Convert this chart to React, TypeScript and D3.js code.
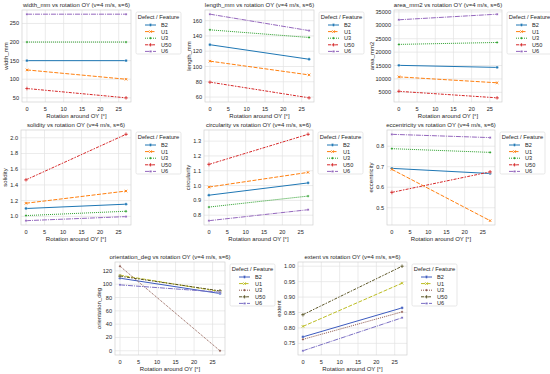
import * as d3 from 'd3';

const defects = ['B2', 'U1', 'U3', 'U50', 'U6'];
const rotation = [0, 27];
const xTicks = [0, 5, 10, 15, 20, 25];

// values per defect (in defects order): [at 0°, at 27°]
const widthMm = [[150, 150], [125, 100], [200, 200], [75, 50], [275, 275]];
const lengthMm = [[128.5, 109.5], [107, 89], [148, 138], [79.5, 59], [168.5, 147]];
const areaMm2 = [[15060, 14300], [10760, 8560], [22880, 23600], [5370, 2950], [32060, 34150]];
const solidity = [[1.1, 1.155], [1.167, 1.322], [1.01, 1.065], [1.465, 2.044], [0.945, 0.997]];
const circularity = [[0.935, 1.018], [0.99, 1.089], [0.855, 0.929], [1.143, 1.346], [0.763, 0.837]];
const eccentricity = [[0.692, 0.667], [0.687, 0.437], [0.788, 0.77], [0.575, 0.675], [0.858, 0.842]];
const orientationDeg = [[109, 86], [113.5, 89], [127, 0], [112, 90], [99, 88]];
const extent = [[0.771, 0.865], [0.805, 0.945], [0.763, 0.852], [0.843, 1.0], [0.726, 0.833]];

const widthTicks = [50, 100, 150, 200, 250];
const lengthTicks = [60, 80, 100, 120, 140, 160];
const areaTicks = [5000, 10000, 15000, 20000, 25000, 30000, 35000];
const solidityTicks = [1.0, 1.2, 1.4, 1.6, 1.8, 2.0];
const circularityTicks = [0.8, 0.9, 1.0, 1.1, 1.2, 1.3];
const eccentricityTicks = [0.5, 0.6, 0.7, 0.8];
const orientationTicks = [0, 20, 40, 60, 80, 100, 120];
const extentTicks = [0.75, 0.8, 0.85, 0.9, 0.95, 1.0];

const paletteA = ['#1f77b4', '#ff7f0e', '#2ca02c', '#d62728', '#9467bd'];
const paletteB = ['#3d5bbf', '#bcbd22', '#8c564b', '#5b5526', '#7b6fc4'];
const dashes = ['', '4,1.5', '1,1', '3,1.25,1.5,1.25', '5,1,1,1'];

const FONT = '"Liberation Sans", Arial, sans-serif';
const TXT = '#262626';

interface PanelDef {
  name: string;
  values: number[][];
  ticks: number[];
  fmt: (v: number) => string;
  left: number;
  top: number;
  w: number;
  h: number;
  palette: string[];
}

const panels: PanelDef[] = [
  { name: 'width_mm', values: widthMm, ticks: widthTicks, fmt: d3.format('d'), left: 22, top: 10, w: 109, h: 92, palette: paletteA },
  { name: 'length_mm', values: lengthMm, ticks: lengthTicks, fmt: d3.format('d'), left: 205, top: 10, w: 109, h: 92, palette: paletteA },
  { name: 'area_mm2', values: areaMm2, ticks: areaTicks, fmt: d3.format('d'), left: 394, top: 10, w: 108, h: 92, palette: paletteA },
  { name: 'solidity', values: solidity, ticks: solidityTicks, fmt: d3.format('.1f'), left: 21, top: 130, w: 110, h: 95, palette: paletteA },
  { name: 'circularity', values: circularity, ticks: circularityTicks, fmt: d3.format('.1f'), left: 204, top: 130, w: 109, h: 95, palette: paletteA },
  { name: 'eccentricity', values: eccentricity, ticks: eccentricityTicks, fmt: d3.format('.1f'), left: 387, top: 130, w: 108, h: 95, palette: paletteA },
  { name: 'orientation_deg', values: orientationDeg, ticks: orientationTicks, fmt: d3.format('d'), left: 115, top: 262, w: 110, h: 93, palette: paletteB },
  { name: 'extent', values: extent, ticks: extentTicks, fmt: d3.format('.2f'), left: 298, top: 262, w: 109, h: 93, palette: paletteB },
];

function Marker({ i, x, y, color }: { i: number; x: number; y: number; color: string }) {
  const s = 1.4;
  const common = { fill: color, stroke: '#fff', strokeWidth: 0.3 };
  if (i === 0) return <circle cx={x} cy={y} r={s} {...common} />;
  if (i === 1) return <path d={d3.symbol(d3.symbolX, 5)()!} transform={`translate(${x},${y})`} fill="none" stroke={color} strokeWidth={0.9} />;
  if (i === 2) return <rect x={x - s * 0.7} y={y - s * 0.7} width={s * 1.4} height={s * 1.4} transform={`rotate(45 ${x} ${y})`} {...common} />;
  if (i === 3) return <path d={d3.symbol(d3.symbolCross, 7)()!} transform={`translate(${x},${y})`} {...common} />;
  return <rect x={x - s * 0.75} y={y - s * 0.75} width={s * 1.5} height={s * 1.5} {...common} />;
}

function Panel({ p }: { p: PanelDef }) {
  const x = d3.scaleLinear().domain([-1.35, 28.35]).range([p.left, p.left + p.w]);
  const all = p.values.flat();
  const [mn, mx] = d3.extent(all) as [number, number];
  const pad = (mx - mn) * 0.05;
  const y = d3.scaleLinear().domain([mn - pad, mx + pad]).range([p.top + p.h, p.top]);
  const line = d3.line<number>().x((_, j) => x(rotation[j])).y((v) => y(v));
  const right = p.left + p.w;
  const bottom = p.top + p.h;
  const tickLabelW = d3.max(p.ticks, (t) => p.fmt(t).length)! * 3.1;
  const lx = right + 5;
  const ly = p.top + 2;
  return (
    <g fontFamily={FONT} fill={TXT}>
      <rect x={p.left} y={p.top} width={p.w} height={p.h} fill="#fff" />
      {xTicks.map((t) => (
        <line key={'gx' + t} x1={x(t)} x2={x(t)} y1={p.top} y2={bottom} stroke="#e3e3e3" strokeWidth={0.7} />
      ))}
      {p.ticks.map((t) => (
        <line key={'gy' + t} x1={p.left} x2={right} y1={y(t)} y2={y(t)} stroke="#e3e3e3" strokeWidth={0.7} />
      ))}
      <rect x={p.left} y={p.top} width={p.w} height={p.h} fill="none" stroke="#d0d0d0" strokeWidth={0.7} />
      {p.values.map((vals, i) => (
        <g key={defects[i]}>
          <path d={line(vals)!} fill="none" stroke={p.palette[i]} strokeWidth={1} strokeDasharray={dashes[i]} />
          {vals.map((v, j) => (
            <Marker key={j} i={i} x={x(rotation[j])} y={y(v)} color={p.palette[i]} />
          ))}
        </g>
      ))}
      {xTicks.map((t) => (
        <text key={'tx' + t} x={x(t)} y={bottom + 8.5} fontSize={5.6} textAnchor="middle">{t}</text>
      ))}
      {p.ticks.map((t) => (
        <text key={'ty' + t} x={p.left - 3} y={y(t) + 2} fontSize={5.6} textAnchor="end">{p.fmt(t)}</text>
      ))}
      <text x={p.left + p.w / 2} y={p.top - 3} fontSize={6} textAnchor="middle">
        {p.name} vs rotation OY (v=4 m/s, s=6)
      </text>
      <text x={p.left + p.w / 2} y={bottom + 15.5} fontSize={6} textAnchor="middle">Rotation around OY [°]</text>
      <text transform={`translate(${p.left - tickLabelW - 5},${p.top + p.h / 2}) rotate(-90)`} fontSize={6} textAnchor="middle">
        {p.name}
      </text>
      <rect x={lx} y={ly} width={45} height={42} rx={1.5} fill="#fff" stroke="#d6d6d6" strokeWidth={0.6} />
      <text x={lx + 22.5} y={ly + 6.5} fontSize={5.8} textAnchor="middle">Defect / Feature</text>
      {defects.map((d, i) => {
        const yy = ly + 13 + i * 6.6;
        return (
          <g key={'lg' + d}>
            <line x1={lx + 9} x2={lx + 20} y1={yy} y2={yy} stroke={p.palette[i]} strokeWidth={1} strokeDasharray={dashes[i]} />
            <Marker i={i} x={lx + 14.5} y={yy} color={p.palette[i]} />
            <text x={lx + 25} y={yy + 2} fontSize={5.6}>{d}</text>
          </g>
        );
      })}
    </g>
  );
}

export default function App() {
  return (
    <svg width={550} height={374} style={{ display: 'block', position: 'absolute', left: 0, top: 0 }}>
      <rect width={550} height={374} fill="#fff" />
      {panels.map((p) => (
        <Panel key={p.name} p={p} />
      ))}
    </svg>
  );
}
